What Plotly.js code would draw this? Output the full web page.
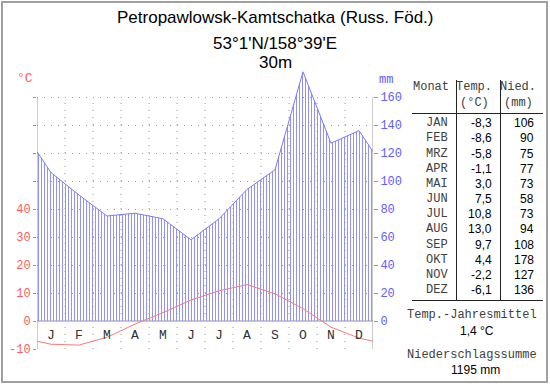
<!DOCTYPE html>
<html><head><meta charset="utf-8">
<script src="https://cdn.plot.ly/plotly-3.0.1.min.js"></script>
<style>html,body{margin:0;padding:0;background:#fff}#chart{width:550px;height:384px}</style>
</head><body><div id="chart"></div>
<script>
const monthLetters = ['J','F','M','A','M','J','J','A','S','O','N','D'];
const monthNames = ['JAN','FEB','MRZ','APR','MAI','JUN','JUL','AUG','SEP','OKT','NOV','DEZ'];
const temp = [-8.3,-8.6,-5.8,-1.1,3.0,7.5,10.8,13.0,9.7,4.4,-2.2,-6.1];
const precip = [106,90,75,77,73,58,73,94,108,178,127,136];
const tempTicks = [-10,0,10,20,30,40,50,60,70,80];
const tempTickLabels = ['-10','0','10','20','30','40','','','',''];
const precipTicks = [0,20,40,60,80,100,120,140,160];
const titleLines = ['Petropawlowsk-Kamtschatka (Russ. Föd.)', "53°1'N/158°39'E", '30m'];

// plot geometry (pixels): plot area extends above the grid so the precipitation peak is not clipped
const L = 37, R = 373, T = 62, B = 349;
const gridTop = 97;
const px = x => (x - L) / (R - L);
const py = y => (B - y) / (B - T);
const tMin = -10, tMax = 80;
const pxPerDeg = (B - gridTop) / (tMax - tMin);
const tTop = tMax + (gridTop - T) / pxPerDeg;

const n = temp.length;
const xc = temp.map((_, i) => i + 0.5);
const edgeT = (temp[0] + temp[n-1]) / 2;
const edgeP = (precip[0] + precip[n-1]) / 2;
const xs = [0, ...xc, n];
const ts = [edgeT, ...temp, edgeT];
const ps = [edgeP, ...precip, edgeP];

const fmt = v => v.toFixed(1).replace('.', ',');
const meanT = temp.reduce((a,b)=>a+b,0) / n;
const sumP = precip.reduce((a,b)=>a+b,0);

const mono = 'Liberation Mono, Courier New, monospace';
const sans = 'Liberation Sans, Arial, sans-serif';
const red = '#ff5c5c', blue = '#6060ff', gray = '#9a9a9a';
const tblText = '#404040';

const traces = [
  {x: xs, y: ps, yaxis: 'y', mode: 'lines', fill: 'tozeroy',
   fillpattern: {shape: '|', size: 3, solidity: 0.33, fgcolor: '#9090ff'},
   line: {color: '#7a7aff', width: 1}, hoverinfo: 'skip', showlegend: false},
  {x: xs, y: ts, yaxis: 'y2', mode: 'lines',
   line: {color: '#ff7878', width: 1}, hoverinfo: 'skip', showlegend: false}
];

const ann = [];
const shapes = [];
titleLines.forEach((t, i) => {
  ann.push({text: t, x: px(275), y: py([18, 43, 63][i]), xref: 'paper', yref: 'paper',
    xanchor: 'center', yanchor: 'middle', showarrow: false, font: {family: sans, size: 17, color: '#000'}});
});
ann.push({text: '°C', x: px(25), y: py(79), xref: 'paper', yref: 'paper', xanchor: 'center', yanchor: 'middle',
  showarrow: false, font: {family: mono, size: 13, color: red}});
ann.push({text: 'mm', x: px(386), y: py(80), xref: 'paper', yref: 'paper', xanchor: 'center', yanchor: 'middle',
  showarrow: false, font: {family: mono, size: 12, color: blue}});
monthLetters.forEach((m, i) => {
  ann.push({text: m, x: i + 0.5, y: -5, xref: 'x', yref: 'y2', xanchor: 'center', yanchor: 'middle',
    showarrow: false, font: {family: mono, size: 13, color: '#303030'}});
});
// table
const A = (text, x, y, xanchor, font) => ann.push({text, x: px(x), y: py(y), xref: 'paper', yref: 'paper',
  xanchor, yanchor: 'middle', showarrow: false, font});
const fM = {family: mono, size: 12, color: tblText};
const fN = {family: sans, size: 12, color: '#000'};
A('Monat', 431, 87, 'center', fM);
A('Temp.', 474, 87, 'center', fM);
A('(°C)', 474, 103, 'center', fM);
A('Nied.', 518, 87, 'center', fM);
A('(mm)', 518, 103, 'center', fM);
monthNames.forEach((m, i) => {
  const y = 123.3 + i * 15.15;
  A(m, 437, y, 'center', fM);
  A(fmt(temp[i]), 494, y, 'right', fN);
  A(String(precip[i]), 536, y, 'right', fN);
});
A('Temp.-Jahresmittel', 472, 315, 'center', fM);
A(fmt(meanT) + ' °C', 477, 331, 'center', fN);
A('Niederschlagssumme', 472, 355, 'center', fM);
A(sumP + ' mm', 475, 370, 'center', fN);

const Ln = (x0, y0, x1, y1, color, w) => shapes.push({type: 'line', xref: 'paper', yref: 'paper',
  x0: px(x0), y0: py(y0), x1: px(x1), y1: py(y1), line: {color, width: w}});
Ln(412, 113.5, 543, 113.5, '#222', 1);
Ln(412, 300.5, 543, 300.5, '#222', 1);
Ln(456.5, 80, 456.5, 300.5, '#222', 1);
Ln(500.5, 80, 500.5, 300.5, '#222', 1);
shapes.push({type: 'rect', xref: 'paper', yref: 'paper', x0: px(2), x1: px(547), y0: py(2), y1: py(382),
  line: {color: '#a0a0a0', width: 2}});
// month-boundary dotted grid, limited to the grid height
for (let i = 1; i < n; i++) {
  shapes.push({type: 'line', xref: 'x', yref: 'y2', x0: i, x1: i, y0: tMin, y1: tMax, layer: 'below',
    line: {color: gray, width: 1, dash: '1px,6px'}});
}
// axis lines, limited to the grid height
[0, n].forEach(x => shapes.push({type: 'line', xref: 'x', yref: 'y2', x0: x, x1: x, y0: tMin, y1: tMax,
  line: {color: gray, width: 1}}));

const layout = {
  width: 550, height: 384,
  margin: {l: L, r: 550 - R, t: T, b: 384 - B, pad: 0},
  paper_bgcolor: '#ffffff', plot_bgcolor: 'rgba(0,0,0,0)',
  showlegend: false,
  xaxis: {range: [0, n], showticklabels: false, ticks: '', showgrid: false, zeroline: false, showline: false, fixedrange: true},
  yaxis: {range: [2 * tMin, 2 * tTop], side: 'right', tickvals: precipTicks, ticks: 'outside', ticklen: 4, tickcolor: gray,
    tickfont: {family: mono, size: 12, color: blue}, showline: false,
    showgrid: false, zeroline: true, zerolinecolor: '#c8c8c8', zerolinewidth: 2, fixedrange: true},
  yaxis2: {range: [tMin, tTop], side: 'left', overlaying: 'y', tickvals: tempTicks, ticktext: tempTickLabels,
    ticks: 'outside', ticklen: 3, tickcolor: gray, tickfont: {family: mono, size: 12, color: red},
    showline: false, showgrid: true, gridcolor: gray, griddash: '1px,6px',
    zeroline: false, fixedrange: true},
  annotations: ann, shapes: shapes
};
Plotly.newPlot('chart', traces, layout, {displayModeBar: false, staticPlot: true});
</script></body></html>
